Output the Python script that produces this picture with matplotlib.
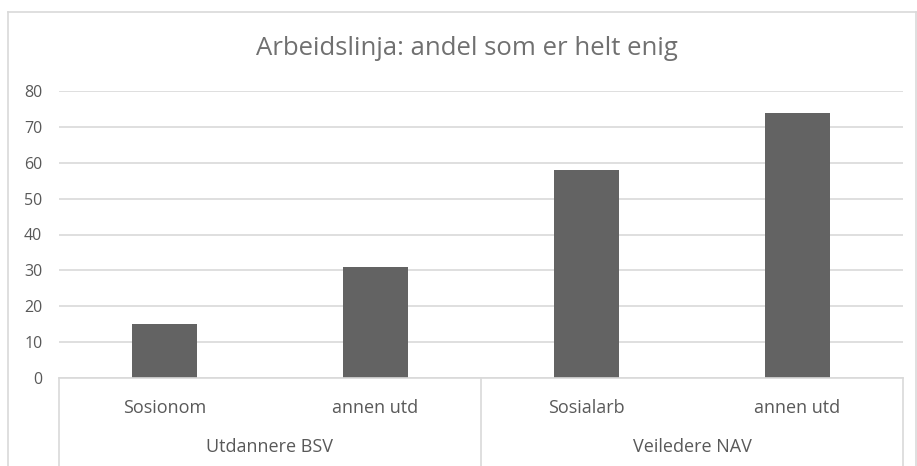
import matplotlib
matplotlib.use("Agg")
import matplotlib.pyplot as plt
from matplotlib.lines import Line2D

categories = ["Sosionom", "annen utd", "Sosialarb", "annen utd"]
groups = ["Utdannere BSV", "Veiledere NAV"]
values = [15, 31, 58, 74]
yticks = [0, 10, 20, 30, 40, 50, 60, 70, 80]
title = "Arbeidslinja: andel som er helt enig"

W, H = 917, 466
plt.rcParams['font.family'] = ['Open Sans', 'DejaVu Sans']
fig = plt.figure(figsize=(W / 100, H / 100), dpi=100)

grid_c = "#d9d9d9"
text_c = "#595959"
title_c = "#707070"
bar_c = "#636363"

# plot area in pixels
left, right, top, bottom = 59, 903, 91, 378
ax = fig.add_axes([left / W, (H - bottom) / H, (right - left) / W, (bottom - top) / H])
ax.set_xlim(-0.5, len(categories) - 0.5)
ax.set_ylim(0, 80)
x = list(range(len(categories)))
ax.bar(x, values, width=0.31, color=bar_c, zorder=3)

ax.set_yticks(yticks)
ax.set_yticklabels([str(v) for v in yticks], color=text_c, fontsize=11.5)
ax.tick_params(axis='y', length=0, pad=12)
ax.set_xticks([])
for s in ax.spines.values():
    s.set_visible(False)
ax.grid(axis='y', color=grid_c, linewidth=1.2, zorder=0)
ax.set_axisbelow(True)

# multi-level category axis
ax_h = bottom - top
tr = ax.get_xaxis_transform()
y_bot = -(H - bottom) / ax_h
ax.add_line(Line2D([-0.5, len(categories) - 0.5], [0, 0], transform=tr, color=grid_c, lw=1.2, clip_on=False, zorder=4))
for xv in [-0.5, 1.5, 3.5]:
    ax.add_line(Line2D([xv, xv], [0, y_bot], transform=tr, color=grid_c, lw=1.2, clip_on=False))
for i, c in enumerate(categories):
    ax.text(i, -(408 - bottom) / ax_h, c, transform=tr, ha='center', va='center', color=text_c, fontsize=13)
for g, gi in enumerate(groups):
    ax.text(0.5 + 2 * g, -(447 - bottom) / ax_h, gi, transform=tr, ha='center', va='center', color=text_c, fontsize=13)

# title
fig.text(467 / W, 1 - 55 / H, title, ha='center', va='baseline', color=title_c, fontsize=18.5)

# chart border (top, left, right)
bl, bt, br = 8, 12, 916
fig.add_artist(Line2D([bl / W, br / W], [1 - bt / H, 1 - bt / H], transform=fig.transFigure, color=grid_c, lw=1.2))
fig.add_artist(Line2D([bl / W, bl / W], [0, 1 - bt / H], transform=fig.transFigure, color=grid_c, lw=1.2))
fig.add_artist(Line2D([br / W, br / W], [0, 1 - bt / H], transform=fig.transFigure, color=grid_c, lw=1.2))

fig.savefig("out.png", dpi=100)
